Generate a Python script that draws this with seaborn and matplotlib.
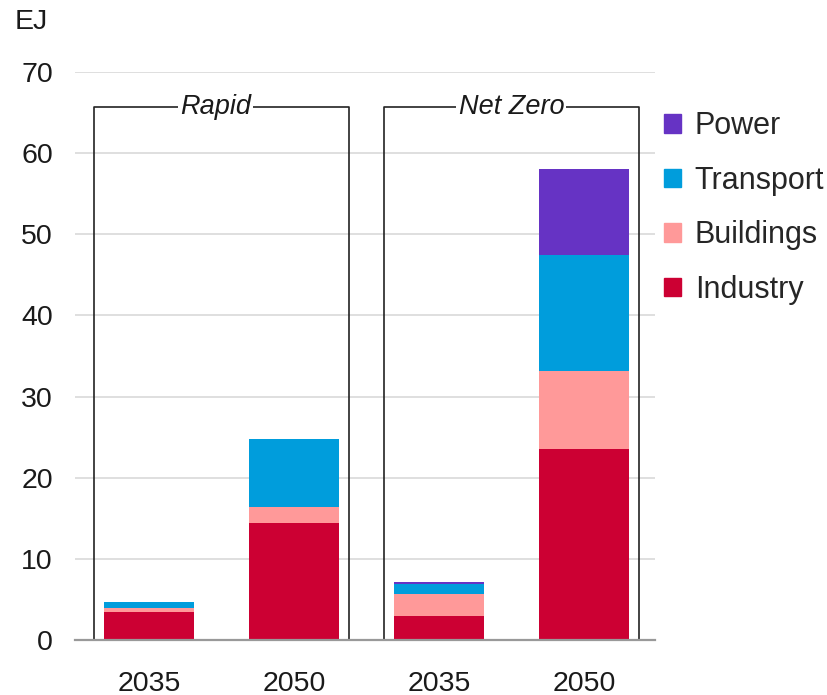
import matplotlib
matplotlib.use("Agg")
import matplotlib.pyplot as plt
import pandas as pd
import seaborn as sns
from matplotlib.patches import Patch

# values (EJ)
bars = ["Rapid 2035", "Rapid 2050", "Net Zero 2035", "Net Zero 2050"]
year_labels = ["2035", "2050", "2035", "2050"]
scenarios = ["Rapid", "Net Zero"]
industry = [3.4, 14.4, 3.0, 23.5]
buildings = [0.6, 2.0, 2.7, 9.6]
transport = [0.7, 8.4, 1.2, 14.3]
power = [0.0, 0.0, 0.3, 10.6]

sectors = ["Industry", "Buildings", "Transport", "Power"]
colors = {"Industry": "#cc0033", "Buildings": "#ff9999",
          "Transport": "#009ddc", "Power": "#6633c4"}

sns.set_theme(style="white")
plt.rcParams["font.family"] = ["Liberation Sans", "DejaVu Sans"]

df = pd.DataFrame({"bar": bars, "Industry": industry, "Buildings": buildings,
                   "Transport": transport, "Power": power})
# cumulative tops, so the stacks can be layered from the back
cum = df[sectors].cumsum(axis=1)
cum["bar"] = df["bar"]

fig = plt.figure(figsize=(8.27, 6.95), dpi=100)
ax = fig.add_axes([0.0907, 0.0791, 0.7013, 0.8173])

for s in reversed(sectors):
    sns.barplot(data=cum, x="bar", y=s, order=bars, color=colors[s],
                width=0.62, saturation=1, linewidth=0, ax=ax, zorder=3)

ax.set_ylim(0, 70)
ax.set_xlim(-0.51, 3.49)
ax.set_yticks(range(0, 71, 10))
ax.set_xticks(range(4))
ax.set_xticklabels(year_labels)
ax.set_xlabel("")
ax.set_ylabel("")
ax.tick_params(axis="both", length=0, labelsize=20.5, colors="#1a1a1a")
ax.tick_params(axis="y", pad=16)
ax.tick_params(axis="x", pad=22)
for y in range(10, 71, 10):
    ax.axhline(y, color="#dcdcdc", lw=1.3, zorder=0)
for sp in ["top", "right", "left"]:
    ax.spines[sp].set_visible(False)
ax.spines["bottom"].set_color("#999999")
ax.spines["bottom"].set_linewidth(1.6)
ax.spines["bottom"].set_zorder(5)

# scenario brackets
for i, name in enumerate(scenarios):
    c = 0.5 + 2 * i
    x0, x1 = c - 0.878, c + 0.878
    ax.plot([x0, x0, x1, x1], [0, 65.7, 65.7, 0], color="#222222", lw=1.2,
            zorder=4, clip_on=False)
    ax.text(c - (0.04 if i == 0 else 0), 65.7, name, ha="center", va="center",
            fontsize=19.5, style="italic", color="#1a1a1a", zorder=6,
            bbox=dict(facecolor="white", edgecolor="none", pad=1.5))

fig.text(0.018, 0.968, "EJ", fontsize=20.5, color="#1a1a1a", ha="left", va="center")

handles = [Patch(color=colors[s], label=s) for s in reversed(sectors)]
ax.legend(handles=handles, loc="upper left", bbox_to_anchor=(0.995, 0.952),
          frameon=False, fontsize=22, handlelength=0.55, handleheight=0.55,
          handletextpad=0.45, labelspacing=0.8, borderaxespad=0)

fig.savefig("out.png", dpi=100)
